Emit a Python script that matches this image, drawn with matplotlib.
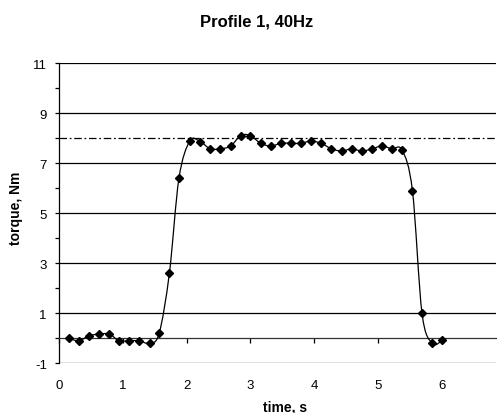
import numpy as np
import matplotlib
matplotlib.use("Agg")
import matplotlib.pyplot as plt
from matplotlib.path import Path
from matplotlib.patches import PathPatch

plt.rcParams['font.family'] = ['Liberation Sans', 'DejaVu Sans']
plt.rcParams['axes.unicode_minus'] = False

title = "Profile 1, 40Hz"
xlabel = "time, s"
ylabel = "torque, Nm"

time_s = [0.16, 0.31, 0.47, 0.63, 0.79, 0.94, 1.10, 1.26, 1.42, 1.57,
          1.73, 1.88, 2.05, 2.21, 2.37, 2.53, 2.69, 2.85, 3.00, 3.16,
          3.32, 3.48, 3.64, 3.79, 3.95, 4.11, 4.27, 4.43, 4.59, 4.75,
          4.91, 5.06, 5.22, 5.38, 5.54, 5.69, 5.85, 6.01]
torque = [0.0, -0.1, 0.1, 0.17, 0.17, -0.1, -0.1, -0.1, -0.2, 0.2,
          2.6, 6.4, 7.89, 7.87, 7.58, 7.58, 7.69, 8.11, 8.11, 7.8,
          7.69, 7.8, 7.8, 7.8, 7.89, 7.8, 7.58, 7.49, 7.58, 7.49,
          7.58, 7.69, 7.58, 7.52, 5.9, 1.0, -0.2, -0.08]
reference_level = 8
x_ticks = [0, 1, 2, 3, 4, 5, 6]
y_ticks = [-1, 1, 3, 5, 7, 9, 11]

W, H = 497, 414
fig = plt.figure(figsize=(W / 100, H / 100), dpi=100)
ax = fig.add_axes([59 / W, (H - 364.3) / H, (496 - 59) / W, 300 / H])
ax.set_xlim(0, (496 - 59) / 63.8)
ax.set_ylim(-1, 11)

# gridlines
for y in y_ticks:
    ax.axhline(y, color='black', lw=0.9, zorder=1)

# reference dash-dot line
ref, = ax.plot([0, 1], [reference_level, reference_level], color='black', lw=0.9,
               transform=ax.get_yaxis_transform(), zorder=2)
ref.set_dashes((6, 2.2, 1.4, 2.2))

# smoothed line (Catmull-Rom bezier like Excel smoothing)
P = np.column_stack([time_s, torque]).astype(float)
n = len(P)
verts = [tuple(P[0])]
codes = [Path.MOVETO]
for i in range(n - 1):
    p0 = P[i - 1] if i > 0 else P[i]
    p1 = P[i]
    p2 = P[i + 1]
    p3 = P[i + 2] if i + 2 < n else P[i + 1]
    c1 = p1 + (p2 - p0) / 6.0
    c2 = p2 - (p3 - p1) / 6.0
    verts += [tuple(c1), tuple(c2), tuple(p2)]
    codes += [Path.CURVE4] * 3
ax.add_patch(PathPatch(Path(verts, codes), facecolor='none', edgecolor='black',
                       lw=0.9, zorder=3))
ax.plot(time_s, torque, linestyle='none', marker='D', ms=3.8, color='black', zorder=4)

# spines / axes
for s in ['top', 'right']:
    ax.spines[s].set_visible(False)
ax.spines['left'].set_linewidth(0.9)
ax.spines['bottom'].set_position(('data', 0))
ax.spines['bottom'].set_linewidth(0.9)
ax.spines['bottom'].set_color('#333333')

ax.set_yticks(y_ticks)
ax.set_yticks(range(-1, 12), minor=True)
ax.tick_params(axis='y', which='both', direction='out', length=3.2, width=0.9,
               labelsize=9.5, pad=5.5)
ax.set_xticks(x_ticks)
ax.tick_params(axis='x', which='both', direction='out', length=3.5, width=0.9,
               labelbottom=False)

sec = ax.secondary_xaxis('bottom')
sec.set_xticks(x_ticks)
sec.set_xticklabels([str(v) for v in x_ticks])
sec.tick_params(length=0, labelsize=9.5, pad=11)
sec.spines['bottom'].set_visible(False)

fig.text(257 / W, 1 - 22 / H, title, ha='center', va='center', fontsize=12,
         fontweight='bold')
fig.text(285 / W, 1 - 408 / H, xlabel, ha='center', va='center', fontsize=10,
         fontweight='bold')
fig.text(16 / W, 1 - 208 / H, ylabel, ha='center', va='center', fontsize=10,
         fontweight='bold', rotation=90)

fig.savefig('out.png', dpi=100)
